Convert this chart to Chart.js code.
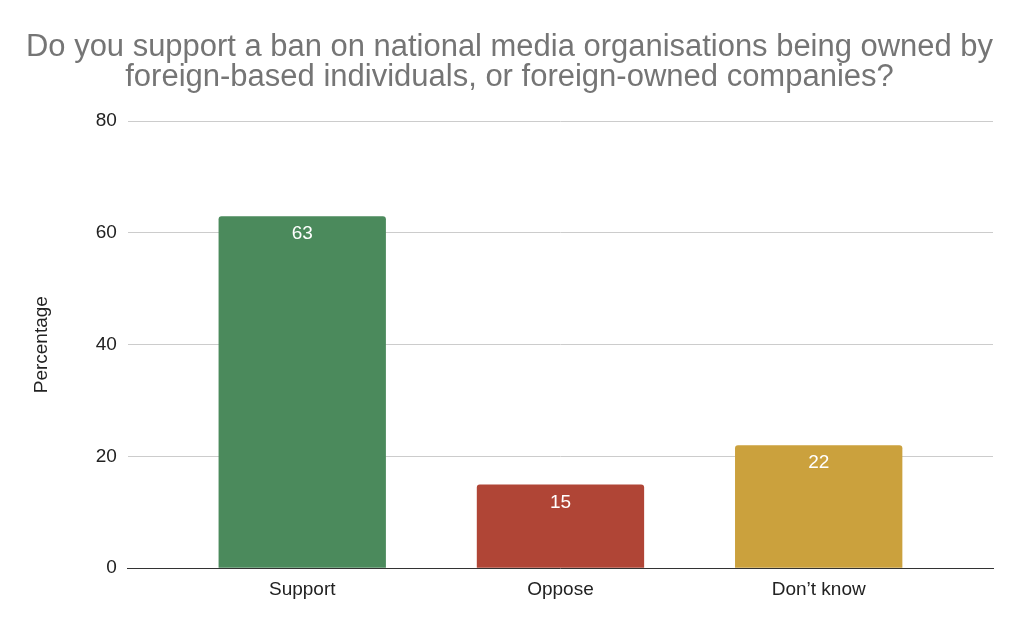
<!DOCTYPE html>
<html>
<head>
<meta charset="utf-8">
<script src="https://cdn.jsdelivr.net/npm/chart.js@4"></script>
<style>
  html, body { margin: 0; padding: 0; background: #fff; }
  #wrap { width: 1024px; height: 629px; }
</style>
</head>
<body>
<div id="wrap"><canvas id="myChart"></canvas></div>
<script>
const categories = ["Support", "Oppose", "Don\u2019t know"];
const percentages = [63, 15, 22];
const barColors = ["#4b8a5c", "#b04536", "#cba13d"];
const yTicks = [0, 20, 40, 60, 80];

const FONT = "'Liberation Sans', Arial, sans-serif";

// white value labels inside the top of each bar
const valueLabels = {
  id: "valueLabels",
  afterDatasetsDraw(chart) {
    const c = chart.ctx;
    const meta = chart.getDatasetMeta(0);
    c.save();
    c.fillStyle = "#ffffff";
    c.font = "19px " + FONT;
    c.textAlign = "center";
    c.textBaseline = "middle";
    meta.data.forEach((bar, i) => {
      c.fillText(String(percentages[i]), bar.x, bar.y + 18);
    });
    c.restore();
  },
};

const ctx = document.getElementById("myChart");

new Chart(ctx, {
  type: "bar",
  data: {
    datasets: [
      {
        label: "Percentage",
        data: percentages.map((v, i) => ({ x: i, y: v })),
        backgroundColor: barColors,
        borderRadius: { topLeft: 3, topRight: 3 },
        borderSkipped: "bottom",
        barPercentage: 0.648,
        categoryPercentage: 1,
      },
    ],
  },
  options: {
    responsive: true,
    maintainAspectRatio: false,
    animation: false,
    layout: { padding: { left: 26, right: 31, top: 12, bottom: 26 } },
    plugins: {
      legend: { display: false },
      tooltip: { enabled: false },
      title: {
        display: true,
        text: [
          "Do you support a ban on national media organisations being owned by",
          "foreign-based individuals, or foreign-owned companies?",
        ],
        color: "#757575",
        font: { family: FONT, size: 31, weight: "normal", lineHeight: 0.97 },
        padding: { top: 20, bottom: 29 },
      },
    },
    scales: {
      x: {
        type: "linear",
        offset: false,
        min: -0.675,
        max: 2.675,
        afterBuildTicks(scale) {
          scale.ticks = categories.map((_, i) => ({ value: i }));
        },
        ticks: {
          callback: (v) => categories[v],
          color: "#222",
          font: { family: FONT, size: 19 },
          padding: 2,
          maxRotation: 0,
        },
        grid: { display: false },
        border: { display: true, color: "#333", width: 1 },
      },
      y: {
        min: 0,
        max: 80,
        afterBuildTicks(scale) {
          scale.ticks = yTicks.map((v) => ({ value: v }));
        },
        ticks: {
          color: "#222",
          font: { family: FONT, size: 19 },
          padding: 11,
        },
        grid: { color: "#cccccc", drawTicks: false },
        border: { display: false },
        title: {
          display: true,
          text: "Percentage",
          color: "#222",
          font: { family: FONT, size: 19 },
          padding: { bottom: 32 },
        },
      },
    },
  },
  plugins: [valueLabels],
});
</script>
</body>
</html>
